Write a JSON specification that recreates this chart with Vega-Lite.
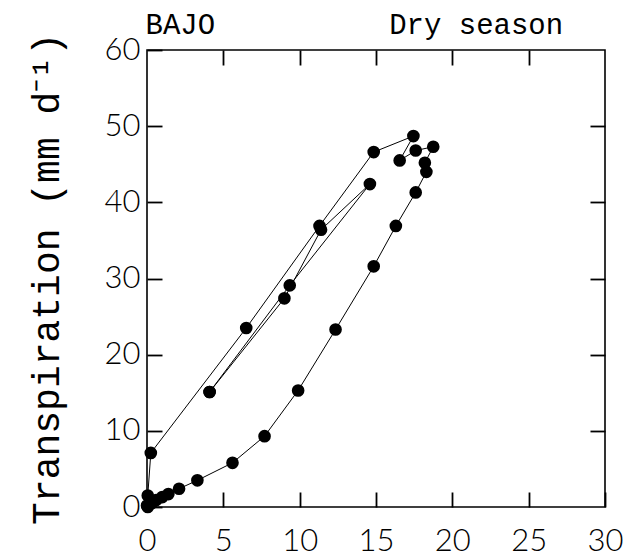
{
  "$schema": "https://vega.github.io/schema/vega-lite/v6.json",
  "width": 458,
  "height": 457,
  "autosize": {"type": "none"},
  "padding": {"left": 147, "top": 50, "right": 24, "bottom": 51},
  "background": "white",
  "config": {
    "view": {"stroke": "black", "strokeWidth": 1.6},
    "axis": {
      "domain": false,
      "grid": false,
      "ticks": true,
      "tickColor": "black",
      "tickWidth": 1.8,
      "tickSize": -15,
      "labelFont": "Lato",
      "labelFontWeight": 300,
      "labelFontSize": 31,
      "labelColor": "black",
      "titleFont": "Liberation Mono",
      "titleFontWeight": "normal",
      "titleColor": "black"
    }
  },
  "data": {
    "values": [
      {"branch": "loop", "step": 0, "vpd": 0.0, "transpiration": 0.2},
      {"branch": "loop", "step": 1, "vpd": 0.05, "transpiration": 1.5},
      {"branch": "loop", "step": 2, "vpd": 0.25, "transpiration": 7.1},
      {"branch": "loop", "step": 3, "vpd": 6.5, "transpiration": 23.5},
      {"branch": "loop", "step": 4, "vpd": 11.3, "transpiration": 36.9},
      {"branch": "loop", "step": 5, "vpd": 14.85, "transpiration": 46.6},
      {"branch": "loop", "step": 6, "vpd": 17.45, "transpiration": 48.7},
      {"branch": "loop", "step": 7, "vpd": 16.55, "transpiration": 45.5},
      {"branch": "loop", "step": 8, "vpd": 17.6, "transpiration": 46.8},
      {"branch": "loop", "step": 9, "vpd": 18.75, "transpiration": 47.3},
      {"branch": "loop", "step": 10, "vpd": 18.2, "transpiration": 45.2},
      {"branch": "loop", "step": 11, "vpd": 18.3, "transpiration": 44.0},
      {"branch": "loop", "step": 12, "vpd": 17.6, "transpiration": 41.3},
      {"branch": "loop", "step": 13, "vpd": 16.3, "transpiration": 36.9},
      {"branch": "loop", "step": 14, "vpd": 14.85, "transpiration": 31.6},
      {"branch": "loop", "step": 15, "vpd": 12.35, "transpiration": 23.3},
      {"branch": "loop", "step": 16, "vpd": 9.9, "transpiration": 15.3},
      {"branch": "loop", "step": 17, "vpd": 7.7, "transpiration": 9.3},
      {"branch": "loop", "step": 18, "vpd": 5.6, "transpiration": 5.8},
      {"branch": "loop", "step": 19, "vpd": 3.3, "transpiration": 3.5},
      {"branch": "loop", "step": 20, "vpd": 2.1, "transpiration": 2.4},
      {"branch": "loop", "step": 21, "vpd": 1.4, "transpiration": 1.7},
      {"branch": "loop", "step": 22, "vpd": 1.0, "transpiration": 1.3},
      {"branch": "loop", "step": 23, "vpd": 0.6, "transpiration": 0.9},
      {"branch": "loop", "step": 24, "vpd": 0.3, "transpiration": 0.5},
      {"branch": "loop", "step": 25, "vpd": 0.05, "transpiration": 0.0},
      {"branch": "inner", "step": 0, "vpd": 4.1, "transpiration": 15.1},
      {"branch": "inner", "step": 1, "vpd": 9.0, "transpiration": 27.4},
      {"branch": "inner", "step": 2, "vpd": 11.4, "transpiration": 36.4},
      {"branch": "inner", "step": 3, "vpd": 14.6, "transpiration": 42.4},
      {"branch": "inner", "step": 4, "vpd": 9.35, "transpiration": 29.1},
      {"branch": "inner", "step": 5, "vpd": 4.1, "transpiration": 15.1}
    ]
  },
  "layer": [
    {
      "mark": {"type": "line", "color": "black", "strokeWidth": 1},
      "encoding": {
        "x": {
          "field": "vpd",
          "type": "quantitative",
          "scale": {"domain": [0, 30], "nice": false},
          "axis": {
            "orient": "bottom",
            "values": [0, 5, 10, 15, 20, 25, 30],
            "labelPadding": 34,
            "title": null,
            "labelFlush": false
          }
        },
        "y": {
          "field": "transpiration",
          "type": "quantitative",
          "scale": {"domain": [0, 60], "nice": false},
          "axis": {
            "orient": "left",
            "values": [0, 10, 20, 30, 40, 50, 60],
            "labelPadding": 22,
            "labelFlush": false,
            "title": "Transpiration (mm d⁻¹)",
            "titleFontSize": 38,
            "titleBaseline": "alphabetic",
            "titleX": -89
          }
        },
        "detail": {"field": "branch"},
        "order": {"field": "step"}
      }
    },
    {
      "mark": {"type": "circle", "color": "black", "opacity": 1, "size": 160},
      "encoding": {
        "x": {
          "field": "vpd",
          "type": "quantitative",
          "axis": {
            "orient": "top",
            "values": [5, 10, 15, 20, 25],
            "labels": false,
            "tickSize": 15,
            "offset": -15,
            "title": "BAJO\u00a0\u00a0\u00a0\u00a0\u00a0\u00a0\u00a0\u00a0\u00a0\u00a0Dry season",
            "titleFontSize": 29,
            "titleAlign": "left",
            "titleAnchor": "start",
            "titleBaseline": "alphabetic",
            "titleX": -2,
            "titleY": -32
          }
        },
        "y": {
          "field": "transpiration",
          "type": "quantitative",
          "axis": {"orient": "right", "values": [10, 20, 30, 40, 50], "labels": false, "title": null}
        }
      }
    }
  ],
  "resolve": {"axis": {"x": "independent", "y": "independent"}}
}
